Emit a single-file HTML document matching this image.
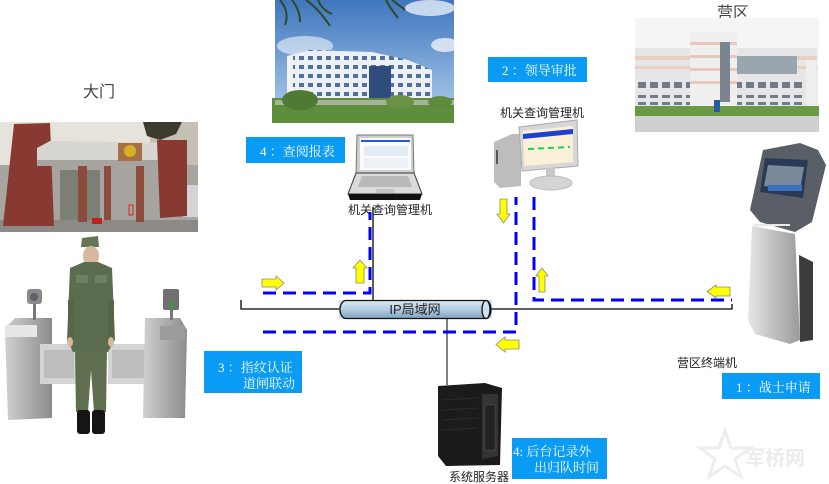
<!DOCTYPE html>
<html><head><meta charset="utf-8"><style>
html,body{margin:0;padding:0;background:#fff;width:829px;height:484px;overflow:hidden}
svg{display:block}
.bx{font-family:"Liberation Serif","Noto Serif CJK SC",serif;fill:#fff;font-size:13px}
.lb{font-family:"Liberation Sans","Noto Sans CJK SC",sans-serif;fill:#222;font-size:12px}
</style></head><body>
<svg width="829" height="484" viewBox="0 0 829 484" xmlns="http://www.w3.org/2000/svg">
<defs>
<linearGradient id="sky" x1="0" y1="0" x2="0" y2="1"><stop offset="0" stop-color="#3f76be"/><stop offset="1" stop-color="#b3d2ee"/></linearGradient>
<linearGradient id="pipe" x1="0" y1="0" x2="0" y2="1"><stop offset="0" stop-color="#dbe8f2"/><stop offset="0.5" stop-color="#b4cde0"/><stop offset="1" stop-color="#7fa3c0"/></linearGradient>
<linearGradient id="metal" x1="0" y1="0" x2="1" y2="0"><stop offset="0" stop-color="#d0d0d0"/><stop offset="1" stop-color="#8c8c8c"/></linearGradient>
<linearGradient id="kbody" x1="0" y1="0" x2="1" y2="0"><stop offset="0" stop-color="#e6e6e6"/><stop offset="1" stop-color="#9a9a9a"/></linearGradient>
<pattern id="win1" x="0" y="0" width="9" height="9" patternUnits="userSpaceOnUse"><rect width="9" height="9" fill="#eceff3"/><rect x="2" y="2" width="5" height="4" fill="#4f6f9e"/></pattern>
<pattern id="win2" x="0" y="0" width="12" height="10" patternUnits="userSpaceOnUse"><rect width="12" height="10" fill="#e6e6e8"/><rect x="2" y="2" width="8" height="6" fill="#707c88"/></pattern>
</defs>

<!-- ===== Gate photo ===== -->
<text x="99" y="97" text-anchor="middle" font-family="Liberation Sans,'Noto Sans CJK SC',sans-serif" font-size="16" fill="#444">大门</text>
<rect x="0" y="122" width="198" height="110" fill="#e6e2dc"/>
<rect x="150" y="122" width="48" height="62" fill="#c6bfb6"/>
<path d="M143 122 L182 122 L176 134 L160 140 L147 136 Z" fill="#3b3b30"/>
<rect x="0" y="165" width="198" height="57" fill="#a6a59f"/>
<rect x="60" y="170" width="40" height="50" fill="#7b7f76"/>
<rect x="183" y="185" width="15" height="32" fill="#d4d4d4"/>
<rect x="0" y="220" width="198" height="12" fill="#8c8a86"/>
<polygon points="3,226 14,124 50,123 54,226" fill="#883a32"/>
<polygon points="37,148 50,141 187,143 187,162 37,162" fill="#d8d6d0"/>
<rect x="37" y="160" width="150" height="6" fill="#a7a39e"/>
<rect x="78" y="166" width="9" height="56" fill="#8c4b3c"/>
<rect x="104" y="166" width="7" height="54" fill="#8c4b3c"/>
<rect x="136" y="166" width="8" height="56" fill="#8c4b3c"/>
<rect x="118" y="143" width="24" height="18" fill="#a57048"/>
<circle cx="130" cy="151" r="6" fill="#d8b020"/>
<polygon points="157,140 187,140 187,216 160,218" fill="#883a32"/>
<rect x="129" y="205" width="4" height="10" fill="none" stroke="#e02020" stroke-width="1"/>
<rect x="92" y="218" width="10" height="6" fill="#c02020"/>

<!-- ===== Soldier and turnstiles ===== -->
<polygon points="5,328 15,318 52,318 52,418 8,420" fill="url(#metal)"/>
<rect x="5" y="325" width="32" height="12" fill="#e6e6e6"/>
<rect x="33" y="300" width="3" height="20" fill="#777"/>
<rect x="27" y="289" width="15" height="15" rx="3" fill="#8a8a8a"/>
<circle cx="34" cy="297" r="4" fill="#56626c"/>
<rect x="40" y="344" width="36" height="40" fill="#d4d4d4"/>
<rect x="44" y="350" width="30" height="28" fill="#bdbdbd"/>
<rect x="108" y="344" width="45" height="40" fill="#d4d4d4"/>
<rect x="112" y="350" width="38" height="28" fill="#bdbdbd"/>
<polygon points="145,318 180,318 187,330 185,418 143,418" fill="url(#metal)"/>
<rect x="160" y="326" width="25" height="14" fill="#9c9c9c"/>
<rect x="170" y="296" width="3" height="24" fill="#777"/>
<rect x="163" y="289" width="16" height="21" rx="2" fill="#707070"/>
<rect x="170" y="302" width="3" height="5" fill="#2a2"/>
<!-- soldier -->
<path d="M81 247 L82 238 L98 236 L99 247 Z" fill="#647558"/>
<ellipse cx="91" cy="256" rx="8" ry="10" fill="#d8b89b"/>
<polygon points="70,268 84,262 98,262 112,268 115,340 108,352 73,352 67,340" fill="#5c6c4e"/>
<rect x="76" y="275" width="12" height="8" fill="#6f7f60"/>
<rect x="95" y="275" width="12" height="8" fill="#6f7f60"/>
<rect x="68" y="300" width="6" height="40" fill="#56664a"/>
<rect x="108" y="300" width="6" height="40" fill="#56664a"/>
<ellipse cx="70" cy="342" rx="3" ry="5" fill="#d8b89b"/>
<ellipse cx="111" cy="342" rx="3" ry="5" fill="#d8b89b"/>
<polygon points="75,350 107,350 106,412 94,412 91,370 88,412 76,412" fill="#5e6e4f"/>
<rect x="77" y="410" width="13" height="24" rx="3" fill="#151515"/>
<rect x="92" y="410" width="13" height="24" rx="3" fill="#151515"/>

<!-- ===== Center building photo ===== -->
<rect x="275" y="0" width="179" height="123" fill="url(#sky)"/>
<ellipse cx="430" cy="8" rx="25" ry="8" fill="#fff" opacity="0.7"/>
<ellipse cx="305" cy="46" rx="28" ry="10" fill="#fff" opacity="0.55"/>
<ellipse cx="445" cy="45" rx="14" ry="7" fill="#fff" opacity="0.7"/>
<polygon points="287,56 310,50 372,52 408,60 432,70 432,100 287,100" fill="url(#win1)"/>
<rect x="287" y="56" width="6" height="44" fill="#f2f2f2"/>
<rect x="369" y="66" width="22" height="32" fill="#2f4c7c"/>
<rect x="272" y="98" width="182" height="25" fill="#5e8d3c"/>
<rect x="275" y="100" width="179" height="5" fill="#a8b49a"/>
<ellipse cx="300" cy="100" rx="18" ry="10" fill="#4f7a33"/>
<ellipse cx="400" cy="102" rx="14" ry="7" fill="#6a9245"/>
<ellipse cx="440" cy="102" rx="12" ry="6" fill="#5f8a3e"/>
<path d="M280 0 Q290 12 285 25 M292 0 Q300 10 300 22 M306 0 Q318 8 330 26 M318 0 Q322 10 332 14 M386 0 Q390 8 398 18 M392 0 Q400 6 405 10" stroke="#2e4a24" stroke-width="2" fill="none"/>

<!-- ===== Camp photo ===== -->
<text x="733" y="18" text-anchor="middle" font-family="Liberation Sans,'Noto Sans CJK SC',sans-serif" font-size="16" fill="#444">营区</text>
<rect x="635" y="18" width="184" height="114" fill="#f5f5f3"/>
<rect x="635" y="48" width="182" height="58" fill="#e6e6e8"/>
<rect x="635" y="56" width="182" height="4" fill="#ead0c2"/>
<rect x="635" y="66" width="182" height="3" fill="#ead0c2"/>
<rect x="635" y="80" width="182" height="10" fill="url(#win2)"/>
<rect x="635" y="95" width="182" height="10" fill="url(#win2)"/>
<rect x="737" y="56" width="60" height="18" fill="#9aa6ae"/>
<rect x="690" y="32" width="47" height="76" fill="#efefef"/>
<rect x="690" y="42" width="47" height="3" fill="#e8c8b8"/>
<rect x="690" y="55" width="47" height="3" fill="#e8c8b8"/>
<rect x="690" y="68" width="47" height="3" fill="#e8c8b8"/>
<rect x="690" y="81" width="47" height="3" fill="#e8c8b8"/>
<rect x="720" y="42" width="10" height="60" fill="#7a8590"/>
<rect x="806" y="60" width="10" height="46" fill="#eeeeee"/>
<rect x="635" y="106" width="184" height="10" fill="#6b9a45"/>
<rect x="635" y="116" width="184" height="16" fill="#cfcfcf"/>
<rect x="714" y="100" width="6" height="12" fill="#2a5a9a"/>

<!-- ===== Blue label boxes ===== -->
<rect x="246" y="137" width="99" height="26" fill="#0a9bf5"/>
<text class="bx" x="260" y="156">4 ：查阅报表</text>
<rect x="488" y="57" width="99" height="25" fill="#0a9bf5"/>
<text class="bx" x="502" y="75">2 ：领导审批</text>
<rect x="722" y="373" width="98" height="26" fill="#0a9bf5"/>
<text class="bx" x="736" y="392">1 ：战士申请</text>
<rect x="204" y="351" width="98" height="42" fill="#0a9bf5"/>
<text class="bx" x="218" y="372">3 ：指纹认证</text>
<text class="bx" x="243" y="388">道闸联动</text>
<rect x="512" y="438" width="95" height="41" fill="#0a9bf5"/>
<text class="bx" x="513" y="456" font-size="14">4: 后台记录外</text>
<text class="bx" x="534" y="472" font-size="14">出归队时间</text>

<!-- ===== Laptop ===== -->
<polygon points="357,135 413,135 414,173 356,173" fill="#cfcfcf" stroke="#777" stroke-width="1"/>
<rect x="360" y="138" width="51" height="32" fill="#fafafa"/>
<rect x="361" y="140" width="49" height="2" fill="#2a5ad8"/>
<rect x="364" y="146" width="44" height="10" fill="#e3ecf5"/>
<rect x="364" y="158" width="44" height="10" fill="#eef2f6"/>
<polygon points="356,173 414,173 422,194 348,194" fill="#dadada" stroke="#333" stroke-width="1"/>
<polygon points="362,176 408,176 412,187 358,187" fill="#b9b9b9"/>
<rect x="376" y="189" width="18" height="4" fill="#c4c4c4"/>
<polygon points="348,194 422,194 420,200 350,200" fill="#111"/>
<text class="lb" x="348" y="214">机关查询管理机</text>

<!-- ===== Desktop ===== -->
<text class="lb" x="500" y="117">机关查询管理机</text>
<polygon points="494,142 512,134 521,134 521,186 500,188 494,182" fill="#bdbdbd"/>
<rect x="496" y="150" width="2" height="14" fill="#555"/>
<polygon points="519,127 577,120 578,166 522,171" fill="#d7d7d7" stroke="#aaa" stroke-width="1"/>
<polygon points="523,131 573,126 573,162 524,166" fill="#fbf1d8"/>
<polygon points="523,134 573,129 573,134 523,139" fill="#1e3fd0"/>
<path d="M528 149 L570 147" stroke="#22cc55" stroke-width="2" stroke-dasharray="6 4"/>
<rect x="546" y="168" width="9" height="10" fill="#c8c8c8"/>
<ellipse cx="551" cy="183" rx="21" ry="7" fill="#d4d4d4" stroke="#bbb"/>

<!-- ===== Kiosk ===== -->
<polygon points="752,226 795,234 800,340 790,344 755,334 748,320" fill="url(#kbody)"/>
<polygon points="799,255 813,262 813,340 800,342" fill="#3c3c3c"/>
<polygon points="763,150 800,143 818,150 826,165 812,222 795,232 760,222 750,210" fill="#5a5e66"/>
<polygon points="765,158 808,160 803,198 760,192" fill="#2a3a55"/>
<polygon points="768,165 804,167 800,190 764,186" fill="#7a8a9a"/>
<rect x="768" y="185" width="34" height="6" fill="#3a70c0"/>
<rect x="754" y="224" width="36" height="2" fill="#e8e8e8"/>
<text class="lb" x="677" y="367">营区终端机</text>

<!-- ===== Server ===== -->
<polygon points="438,386 485,383 502,388 500,465 446,466 438,456" fill="#1b1b1b"/>
<polygon points="482,394 498,394 498,456 482,459" fill="#343434"/>
<rect x="485" y="405" width="10" height="45" fill="#222" stroke="#555" stroke-width="0.5"/>
<path d="M442 400 L478 398 M442 410 L478 408 M442 420 L478 418 M442 430 L478 428" stroke="#2c2c2c" stroke-width="1"/>
<text class="lb" x="449" y="481">系统服务器</text>

<!-- watermark -->
<polygon points="725,430 731,448 750,448 735,459 741,477 725,466 709,477 715,459 700,448 719,448" fill="none" stroke="#eeeeee" stroke-width="3"/>
<text x="745" y="465" font-family="Liberation Sans,'Noto Sans CJK SC',sans-serif" font-size="20" fill="#ececec" font-weight="bold">军桥网</text>

<!-- ===== Network ===== -->
<path d="M241 300 L241 309 L732 309 L732 304" stroke="#000" stroke-width="1.3" fill="none"/>
<line x1="373" y1="207" x2="373" y2="305" stroke="#000" stroke-width="1.3"/>
<line x1="447" y1="312" x2="447" y2="385" stroke="#7f7f7f" stroke-width="2"/>
<rect x="339" y="300" width="153" height="19" fill="#b8d0e4" opacity="0.6"/>
<path d="M346 300.5 L486 300.5 A5 9 0 0 1 486 318.5 L346 318.5 A6 9 0 0 1 346 300.5 Z" fill="url(#pipe)" stroke="#111" stroke-width="1.3"/>
<ellipse cx="486" cy="309.5" rx="4" ry="9" fill="#cfe0ee" stroke="#111" stroke-width="1.3"/>
<text x="415" y="314" text-anchor="middle" font-family="Liberation Sans,'Noto Sans CJK SC',sans-serif" font-size="13" fill="#222">IP局域网</text>

<g stroke="#0000ff" stroke-width="3" fill="none" stroke-dasharray="13 7">
<path d="M263 293 L370 293 L370 212"/>
<path d="M263 332 L516 332 L516 197"/>
<path d="M534 197 L534 300 L732 300"/>
</g>

<!-- yellow arrows -->
<g fill="#ffff00" stroke="#8a8a6a" stroke-width="0.8">
<polygon points="262,279 276,279 276,276 284,283 276,290 276,287 262,287"/>
<polygon points="356,283 356,268 353,268 360,260 367,268 364,268 364,283"/>
<polygon points="500,199 507,199 507,214 510,214 503.5,223 497,214 500,214"/>
<polygon points="539,292 539,276 536,276 542,268 548,276 545,276 545,292"/>
<polygon points="519,340 505,340 505,337 496,344.5 505,352 505,349 519,349"/>
<polygon points="730,287 716,287 716,285 707,291.5 716,298 716,296 730,296"/>
</g>
</svg>
</body></html>
